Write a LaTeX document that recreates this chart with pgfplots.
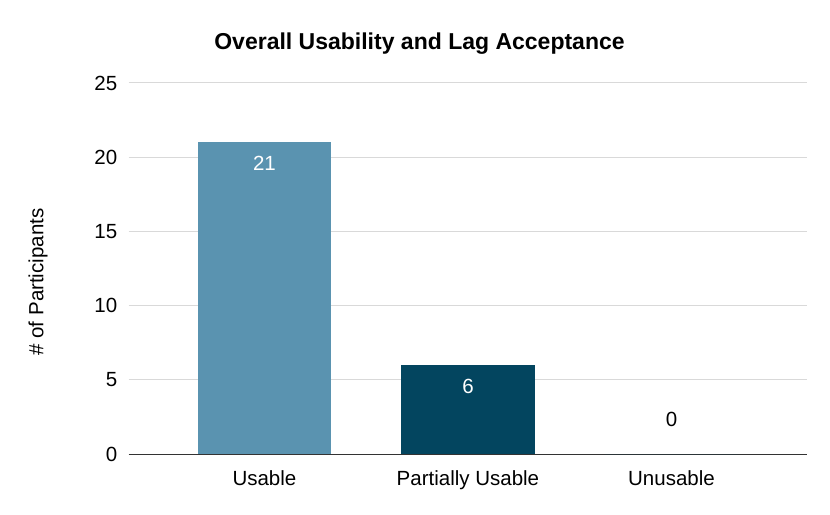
\documentclass[border=0pt]{standalone}
\usepackage{pgfplots}
\pgfplotsset{compat=1.18}
\usepackage{fontspec}
\setmainfont{Liberation Sans}
\definecolor{usable}{HTML}{5A93B0}
\definecolor{partial}{HTML}{03455F}
\definecolor{gridc}{HTML}{D9D9D9}
\definecolor{basec}{HTML}{333333}
\begin{document}
\begin{tikzpicture}
\path[use as bounding box] (0bp,0bp) rectangle (830bp,515bp);
\begin{axis}[
  at={(128.5bp,61bp)}, anchor=south west,
  width=678.5bp, height=371bp, scale only axis,
  xmin=-0.668, xmax=2.666, ymin=0, ymax=25,
  ytick={0,5,10,15,20,25},
  xtick={0,1,2}, xticklabels={Usable, Partially Usable, Unusable},
  axis x line*=bottom, axis y line*=left,
  y axis line style={draw=none},
  x axis line style={draw=basec, line width=1bp},
  ymajorgrids, grid style={gridc, line width=1bp},
  major tick length=0pt, tick style={draw=none},
  ticklabel style={font=\fontsize{20.5bp}{24bp}\selectfont},
  /pgf/number format/assume math mode=true,
  yticklabel style={anchor=east, inner sep=0pt, xshift=-11bp},
  xticklabel style={anchor=north, inner sep=0pt, yshift=-16bp},
  ybar, bar width=0.654, bar shift=0pt,
  nodes near coords,
  nodes near coords align={center},
  every node near coord/.append style={font=\fontsize{20.5bp}{24bp}\selectfont},
  clip=false,
]
\addplot[fill=usable, draw=none, bar shift=0pt,
  every node near coord/.append style={white, yshift=-21bp}]
  coordinates {(0,21)};
\addplot[fill=partial, draw=none, bar shift=0pt,
  every node near coord/.append style={white, yshift=-21bp}]
  coordinates {(1,6)};
\addplot[fill=partial, draw=none, bar shift=0pt,
  every node near coord/.append style={black, yshift=35bp}]
  coordinates {(2,0)};
\end{axis}
\node[font=\bfseries\fontsize{23bp}{27bp}\selectfont, anchor=base] at (419.5bp,465bp) {Overall Usability and Lag Acceptance};
\node[font=\fontsize{20.5bp}{24bp}\selectfont, rotate=90] at (38bp,233bp) {\# of Participants};
\end{tikzpicture}
\end{document}
